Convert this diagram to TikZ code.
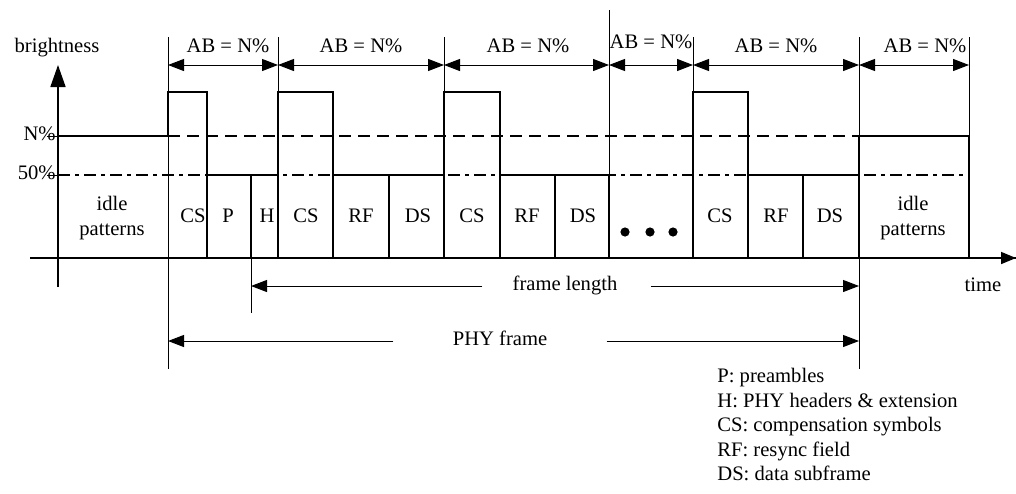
\documentclass[tikz,border=0pt]{standalone}
\usepackage{fontspec}
\setmainfont{Liberation Serif}
\usetikzlibrary{arrows.meta}

\begin{document}
\begin{tikzpicture}[
    x=0.5pt, y=-0.5pt,
    every node/.style={font=\fontsize{10.3}{12.5}\selectfont, inner sep=0pt,
      text height=0.68em, text depth=0.2em},
    sig/.style={line width=1.1pt},
    marker/.style={line width=0.5pt},
    cell/.style={line width=0.7pt},
    tip/.style={-{Triangle[length=8pt,width=6pt]}},
    dim/.style={line width=0.5pt, {Triangle[length=8pt,width=6pt]}-{Triangle[length=8pt,width=6pt]}}
  ]
  \useasboundingbox (0,0) rectangle (1016,493);

  % markers
  \draw[marker] (168,37) -- (168,369);
  \draw[marker] (859,37) -- (859,369);
  \draw[marker] (609,10) -- (609,258);
  \foreach \x in {278,444,693,969}
    \draw[marker] (\x,37) -- (\x,258);
  \draw[marker] (251,175) -- (251,313);

  % axes
  \draw[line width=0.8pt] (30,258) -- (1016,258);
  \draw[line width=0.8pt, -{Triangle[length=7.5pt,width=6pt]}] (30,258) -- (1016,258);
  \draw[line width=0.8pt, -{Triangle[length=11pt,width=7.5pt]}] (58,287) -- (58,65);
  \node (bright) at (57,48) {brightness};
  \node (time) at (983,287) {time};
  \draw[marker] (47,136) -- (58,136);
  \draw[marker] (47,175) -- (58,175);
  \node[anchor=east] (lvlN) at (56,136) {N\%};
  \node[anchor=east] (lvl50) at (56,175) {50\%};

  % levels
  \draw[sig, dash pattern=on 6pt off 3.5pt] (168,136) -- (969,136);
  \draw[sig, dash pattern=on 6pt off 2.5pt on 2pt off 2.5pt] (58,175) -- (969,175);

  % signal
  \draw[sig] (58,258) -- (58,136) -- (168,136) -- (168,92) -- (207,92) -- (207,175)
    -- (278,175) -- (278,92) -- (333,92) -- (333,175) -- (444,175) -- (444,92)
    -- (500,92) -- (500,175) -- (609,175) -- (609,258);
  \draw[sig] (693,258) -- (693,92) -- (748,92) -- (748,175) -- (859,175)
    -- (859,136) -- (969,136) -- (969,258);
  \draw[sig] (207,258) -- (969,258);
  \foreach \x in {207,278,333,444,500,748,859}
    \draw[sig] (\x,175) -- (\x,258);
  \foreach \x in {389,555,803}
    \draw[cell] (\x,175) -- (\x,258);
  \draw[cell] (251,175) -- (251,258);

  % cells
  \node[text height=, text depth=, align=center] (idle1) at (112,218) {idle\\patterns};
  \node[text height=, text depth=, align=center] (idle2) at (913,218) {idle\\patterns};
  \foreach \x/\t [count=\i] in {193/CS,228/P,267/H,306/CS,361/RF,418/DS,472/CS,527/RF,583/DS,720/CS,776/RF,830/DS}
    \node (c\i) at (\x,218) {\t};
  \foreach \x [count=\i] in {625,650,673}
    \fill (\x,232) circle (2.3pt);

  % AB = N%
  \foreach \x in {168,278,444,609,693,859,969}
    \coordinate (m\x) at (\x,65);
  \foreach \a/\b/\c/\h in {168/278/228/48,278/444/361/48,444/609/528/48,609/693/651/44,693/859/776/48,859/969/925/48}{
    \draw[dim] (m\a) -- (m\b);
    \node (ab\a) at (\c,\h) {AB = N\%};
  }

  % frame length
  \coordinate (fa) at (251,286);
  \coordinate (fb) at (859,286);
  \node (flen) at (565,286) {frame length};
  \draw[marker, tip] ([xshift=-15pt]flen.west) -- (fa);
  \draw[marker, tip] ([xshift=16.5pt]flen.east) -- (fb);

  % PHY frame
  \coordinate (pa) at (168,341);
  \coordinate (pb) at (859,341);
  \node (phy) at (500,341) {PHY frame};
  \draw[marker, tip] ([xshift=-29.5pt]phy.west) -- (pa);
  \draw[marker, tip] ([xshift=29.5pt]phy.east) -- (pb);

  % legend
  \foreach \t [count=\i from 0] in {P: preambles, H: PHY headers \& extension,
      CS: compensation symbols, RF: resync field, DS: data subframe}
    \node[anchor=west] (leg\i) at (717,378+24.5*\i) {\t};
\end{tikzpicture}
\end{document}
